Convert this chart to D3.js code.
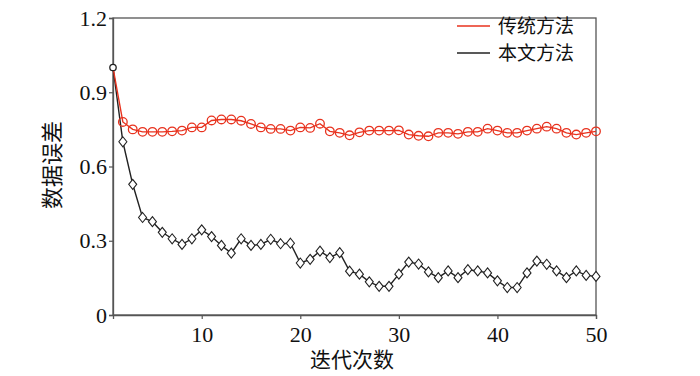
<!DOCTYPE html>
<html><head><meta charset="utf-8">
<script src="https://cdn.jsdelivr.net/npm/d3@7"></script>
<style>body{margin:0;background:#fff}svg{display:block}</style>
</head><body><svg id="c" width="700" height="376"></svg>
<script>
const iterations = d3.range(1, 51);
const traditional = [1.0,0.78,0.75,0.74,0.74,0.74,0.742,0.745,0.758,0.758,
  0.786,0.79,0.79,0.785,0.772,0.758,0.752,0.752,0.745,0.758,
  0.756,0.773,0.742,0.736,0.726,0.738,0.745,0.745,0.745,0.746,
  0.729,0.724,0.722,0.736,0.736,0.732,0.74,0.74,0.753,0.745,
  0.736,0.736,0.745,0.753,0.761,0.753,0.736,0.729,0.736,0.742];
const proposed = [1.0,0.70,0.528,0.394,0.377,0.334,0.308,0.285,0.308,0.344,
  0.317,0.281,0.25,0.308,0.281,0.285,0.306,0.288,0.29,0.21,
  0.225,0.258,0.232,0.252,0.177,0.165,0.134,0.116,0.116,0.165,
  0.214,0.206,0.174,0.151,0.178,0.151,0.183,0.178,0.17,0.138,
  0.111,0.111,0.17,0.218,0.205,0.178,0.151,0.178,0.16,0.156];
const xTicks = [10,20,30,40,50];
const yTicks = [0,0.3,0.6,0.9,1.2];
const yTickLabels = ["0","0.3","0.6","0.9","1.2"];
const seriesNames = ["传统方法","本文方法"];
const xTitle = "迭代次数", yTitle = "数据误差";

const svg = d3.select("#c");
const x = d3.scaleLinear().domain([1,50]).range([113,596]);
const y = d3.scaleLinear().domain([0,1.2]).range([315,18]);
const axisColor = "#555";
const serif = "Liberation Serif";
const cjk = "Noto Sans CJK SC";

svg.append("rect").attr("x",113).attr("y",18).attr("width",483).attr("height",297)
  .attr("fill","none").attr("stroke",axisColor).attr("stroke-width",1.3);

const xa = svg.append("g").attr("transform","translate(0,315)")
  .call(d3.axisBottom(x).tickValues(xTicks).tickSize(4).tickPadding(7).tickFormat(d3.format("d")));
const ya = svg.append("g").attr("transform","translate(113,0)")
  .call(d3.axisLeft(y).tickValues(yTicks).tickSize(4).tickPadding(2).tickFormat((d,i)=>yTickLabels[i]));
[xa,ya].forEach(g=>{
  g.attr("font-family",serif).attr("font-size",22);
  g.select(".domain").attr("stroke",axisColor).attr("stroke-width",1.3);
  g.selectAll(".tick line").attr("stroke",axisColor).attr("stroke-width",1.2);
  g.selectAll("text").attr("font-family",serif).attr("font-size",22).attr("fill","#111");
});

const line = d3.line().x((d,i)=>x(iterations[i])).y(d=>y(d));
const red = "#e8321e", black = "#222";

svg.append("path").datum(proposed).attr("d",line).attr("fill","none").attr("stroke",black).attr("stroke-width",1.4);
svg.append("path").datum(traditional).attr("d",line).attr("fill","none").attr("stroke",red).attr("stroke-width",1.4);

svg.selectAll("circle.t").data(traditional.slice(1)).enter().append("circle")
  .attr("cx",(d,i)=>x(iterations[i+1])).attr("cy",d=>y(d)).attr("r",4.3)
  .attr("fill","none").attr("stroke",red).attr("stroke-width",1.3);

const diamondPath = "M0,-5L4,0L0,5L-4,0Z";
svg.selectAll("path.p").data(proposed.slice(1)).enter().append("path")
  .attr("d",diamondPath)
  .attr("transform",(d,i)=>`translate(${x(iterations[i+1])},${y(d)})`)
  .attr("fill","#fff").attr("stroke",black).attr("stroke-width",1.1);
svg.append("circle").attr("cx",x(iterations[0])).attr("cy",y(proposed[0])).attr("r",3.2)
  .attr("fill","#fff").attr("stroke",black).attr("stroke-width",1.3);

const leg = [{name:seriesNames[0],c:red,y:26},{name:seriesNames[1],c:black,y:53}];
leg.forEach(l=>{
  svg.append("line").attr("x1",457).attr("x2",490).attr("y1",l.y).attr("y2",l.y).attr("stroke",l.c).attr("stroke-width",1.4);
  svg.append("text").attr("x",498).attr("y",l.y).attr("dy","0.36em").attr("font-family",cjk).attr("font-size",19).attr("fill","#111").text(l.name);
});

svg.append("text").attr("x",352).attr("y",359).attr("dy","0.36em").attr("text-anchor","middle")
  .attr("font-family",cjk).attr("font-size",21).attr("fill","#111").text(xTitle);
svg.append("text").attr("transform","translate(52,165) rotate(-90)").attr("dy","0.36em").attr("text-anchor","middle")
  .attr("font-family",cjk).attr("font-size",22).attr("fill","#111").text(yTitle);
</script></body></html>
